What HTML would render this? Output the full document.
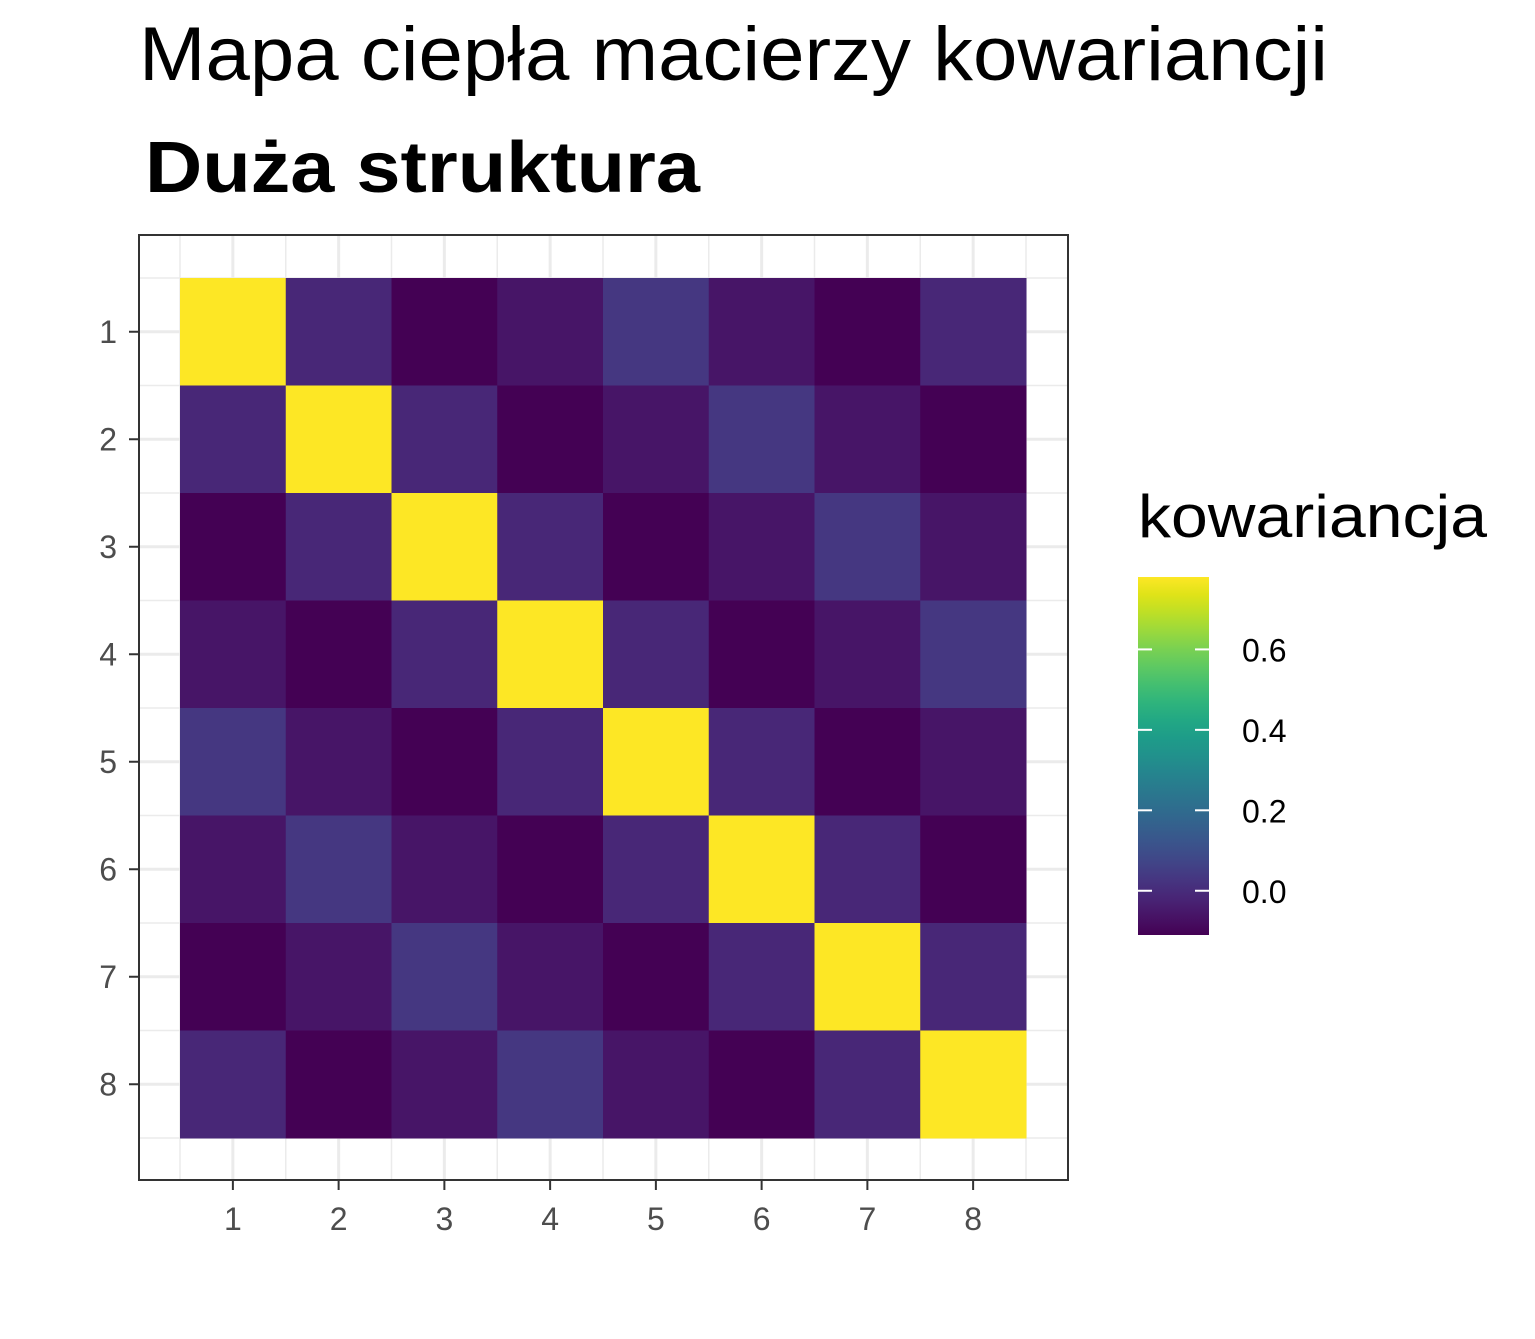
<!DOCTYPE html>
<html><head><meta charset="utf-8"><style>
html,body{margin:0;padding:0;background:#fff;}
svg text{font-family:"Liberation Sans",sans-serif;}
</style></head><body>
<svg id="chart" width="1535" height="1334" viewBox="0 0 1535 1334" xmlns="http://www.w3.org/2000/svg">
<defs><linearGradient id="vgrad" x1="0" y1="1" x2="0" y2="0"></linearGradient></defs>
<text x="139" y="80" font-size="76" textLength="1189" lengthAdjust="spacingAndGlyphs">Mapa ciepła macierzy kowariancji</text>
<text x="145" y="192" font-size="72" font-weight="bold" textLength="555" lengthAdjust="spacingAndGlyphs">Duża struktura</text>
<g id="panel"></g>
<g id="legend"></g>
</svg>
<script>
const rowLabels = ["1","2","3","4","5","6","7","8"];
const colLabels = ["1","2","3","4","5","6","7","8"];
const lagValues = [0.78, -0.012, -0.11, -0.061, 0.032, -0.061, -0.11, -0.012];
const legendTicks = [0.0, 0.2, 0.4, 0.6];
const legendTickLabels = ["0.0","0.2","0.4","0.6"];
const valueMin = -0.11, valueMax = 0.78;

const VIR = ["#440154","#471365","#482475","#463480","#414487","#3b528b","#355f8d","#2f6c8e","#2a788e","#25848e","#21918c","#1e9c89","#22a884","#2fb47c","#44bf70","#5ec962","#7ad151","#9bd93c","#bddf26","#dfe318","#fde725"];
function hex(h){return [1,3,5].map(i=>parseInt(h.substr(i,2),16));}
function viridis(t){t=Math.max(0,Math.min(1,t));const p=t*(VIR.length-1),i=Math.min(Math.floor(p),VIR.length-2),f=p-i;
 const a=hex(VIR[i]),b=hex(VIR[i+1]);return "rgb("+a.map((v,k)=>Math.round(v+(b[k]-v)*f)).join(",")+")";}
const NS="http://www.w3.org/2000/svg";
function mk(tag,attrs,parent){const e=document.createElementNS(NS,tag);for(const k in attrs)e.setAttribute(k,attrs[k]);parent.appendChild(e);return e;}

const px0=139,px1=1068,py0=235,py1=1180;
const tx0=180,tx1=1026,ty0=278,ty1=1138;
const n=colLabels.length;
const cw=(tx1-tx0)/n, ch=(ty1-ty0)/n;
const xPos=i=>tx0+cw*(i+0.5), yPos=j=>ty0+ch*(j+0.5);
const panel=document.getElementById('panel');
for(let i=0;i<=n;i++){
 mk('line',{x1:tx0+cw*i,x2:tx0+cw*i,y1:py0,y2:py1,stroke:"#ebebeb","stroke-width":1.5},panel);
 mk('line',{y1:ty0+ch*i,y2:ty0+ch*i,x1:px0,x2:px1,stroke:"#ebebeb","stroke-width":1.5},panel);
}
for(let i=0;i<n;i++){
 mk('line',{x1:xPos(i),x2:xPos(i),y1:py0,y2:py1,stroke:"#ebebeb","stroke-width":3},panel);
 mk('line',{y1:yPos(i),y2:yPos(i),x1:px0,x2:px1,stroke:"#ebebeb","stroke-width":3},panel);
}
const colorOf=v=>viridis((v-valueMin)/(valueMax-valueMin));
for(let r=0;r<n;r++)for(let c=0;c<n;c++){
 const v=lagValues[(c-r+n)%n];
 const t=mk('rect',{x:tx0+cw*c,y:ty0+ch*r,width:cw+0.5,height:ch+0.5,fill:colorOf(v)},panel);
 
 
}
const border=mk('rect',{x:px0,y:py0,width:px1-px0,height:py1-py0,fill:"none",stroke:"#333","stroke-width":2},panel);


for(let i=0;i<n;i++){
 mk('line',{x1:xPos(i),x2:xPos(i),y1:py1,y2:py1+10,stroke:"#333","stroke-width":2},panel);
 const xl=mk('text',{x:xPos(i),y:py1+50,"font-size":32,fill:"#4d4d4d","text-anchor":"middle"},panel);
 xl.textContent=colLabels[i];
 
 
 mk('line',{x1:px0-10,x2:px0,y1:yPos(i),y2:yPos(i),stroke:"#333","stroke-width":2},panel);
 const yl=mk('text',{x:px0-22,y:yPos(i)+11,"font-size":32,fill:"#4d4d4d","text-anchor":"end"},panel);
 yl.textContent=rowLabels[i];
 
 
}
const lg=document.getElementById('legend');
const grad=document.getElementById('vgrad');
VIR.forEach((c,i)=>mk('stop',{offset:(i/(VIR.length-1)),"stop-color":c},grad));
const bx=1138,bw=71,by0=577,by1=935;
const lt=mk('text',{x:1138,y:537,"font-size":60,textLength:349,lengthAdjust:"spacingAndGlyphs"},lg);lt.textContent="kowariancja";


const bar=mk('rect',{x:bx,y:by0,width:bw,height:by1-by0,fill:"url(#vgrad)"},lg);


const ly=v=>by1-(v-valueMin)/(valueMax-valueMin)*(by1-by0);
legendTicks.forEach((v,i)=>{
 mk('line',{x1:bx,x2:bx+14,y1:ly(v),y2:ly(v),stroke:"#fff","stroke-width":2},lg);
 mk('line',{x1:bx+bw-14,x2:bx+bw,y1:ly(v),y2:ly(v),stroke:"#fff","stroke-width":2},lg);
 const t=mk('text',{x:1242,y:ly(v)+12,"font-size":32},lg);t.textContent=legendTickLabels[i];
 
 
});
</script>
</body></html>
